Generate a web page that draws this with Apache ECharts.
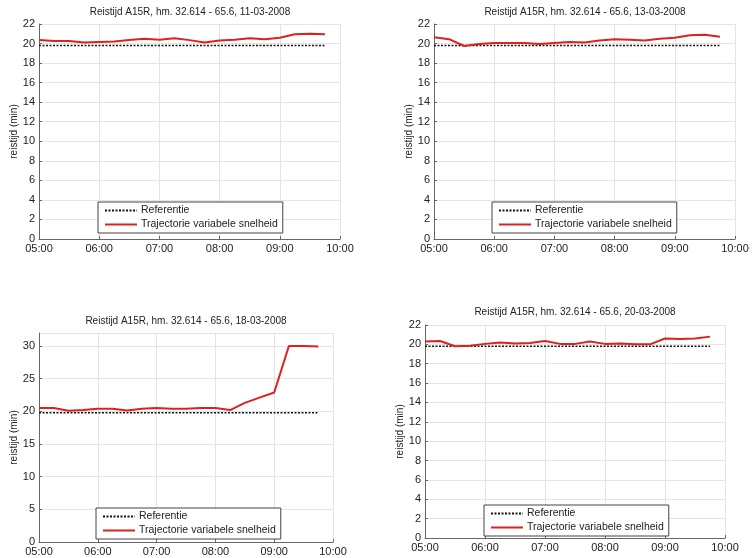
<!DOCTYPE html>
<html>
<head>
<meta charset="utf-8">
<script src="https://cdn.jsdelivr.net/npm/echarts@6/dist/echarts.min.js"></script>
<style>
html,body{margin:0;padding:0;background:#fff;}
#c{width:753px;height:558px;}
</style>
</head>
<body>
<div id="c"></div>
<script>
// ---- data ----
var times = ["05:00","05:15","05:30","05:45","06:00","06:15","06:30","06:45","07:00","07:15",
             "07:30","07:45","08:00","08:15","08:30","08:45","09:00","09:15","09:30","09:45"];
var titles = [
  "Reistijd A15R, hm. 32.614 - 65.6, 11-03-2008",
  "Reistijd A15R, hm. 32.614 - 65.6, 13-03-2008",
  "Reistijd A15R, hm. 32.614 - 65.6, 18-03-2008",
  "Reistijd A15R, hm. 32.614 - 65.6, 20-03-2008"
];
var xTickLabels = ["05:00","06:00","07:00","08:00","09:00","10:00"];
var referentie = 19.8;
var traj11 = [20.36,20.26,20.26,20.1,20.16,20.2,20.36,20.5,20.4,20.55,20.35,20.1,20.3,20.4,20.55,20.45,20.6,20.95,21.0,20.95];
var traj13 = [20.65,20.45,19.75,19.95,20.05,20.05,20.05,19.95,20.05,20.15,20.1,20.3,20.45,20.4,20.3,20.5,20.6,20.85,20.9,20.7];
var traj18 = [20.5,20.5,20.1,20.2,20.4,20.4,20.15,20.4,20.5,20.4,20.4,20.5,20.5,20.2,21.3,22.1,22.9,30.0,30.0,29.95];
var traj20 = [20.3,20.35,19.8,19.85,20.05,20.2,20.1,20.15,20.35,20.05,20.05,20.3,20.05,20.1,20.0,20.0,20.6,20.55,20.6,20.8];
var yMax = [22, 22, 32, 22];
var yInterval = [2, 2, 5, 2];
var seriesNames = ["Referentie", "Trajectorie variabele snelheid"];

// ---- layout ----
var FONT = "Liberation Sans";
var grids = [
  {left: 39, top: 24, width: 301, height: 215},
  {left: 434, top: 24, width: 301, height: 215},
  {left: 39, top: 333, width: 294, height: 209},
  {left: 425, top: 325, width: 300, height: 213}
];
var titlePos = [{x: 190, y: 7}, {x: 585, y: 7}, {x: 186, y: 316}, {x: 575, y: 307}];
var legendPos = [{x: 98, y: 202}, {x: 492, y: 202}, {x: 96, y: 508}, {x: 484, y: 505}];
var trajs = [traj11, traj13, traj18, traj20];

function toHours(t) { var p = t.split(":"); return +p[0] + (+p[1]) / 60; }
var xs = times.map(toHours);

var option = {
  animation: false,
  backgroundColor: "#fff",
  textStyle: {fontFamily: FONT},
  title: [], grid: [], xAxis: [], yAxis: [], series: [], legend: []
};

for (var i = 0; i < 4; i++) {
  option.title.push({
    text: titles[i], left: titlePos[i].x, top: titlePos[i].y, textAlign: "center", padding: 0,
    textStyle: {fontSize: 10, fontWeight: "normal", color: "#222", fontFamily: FONT}
  });
  option.grid.push(Object.assign({containLabel: false}, grids[i]));
  option.xAxis.push({
    type: "value", gridIndex: i, min: 5, max: 10, interval: 1,
    axisLine: {show: true, lineStyle: {color: "#666", width: 1}},
    axisTick: {show: true, inside: true, length: 3, lineStyle: {color: "#666"}},
    axisLabel: {fontSize: 11, color: "#222", margin: 4, fontFamily: FONT,
      formatter: function (v) { return xTickLabels[Math.round(v - 5)]; }},
    splitLine: {show: true, lineStyle: {color: "#e4e4e4", width: 1}}
  });
  option.yAxis.push({
    type: "value", gridIndex: i, min: 0, max: yMax[i], interval: yInterval[i],
    name: "reistijd (min)", nameLocation: "middle", nameGap: 19,
    nameTextStyle: {fontSize: 10, color: "#222", fontFamily: FONT},
    axisLine: {show: true, lineStyle: {color: "#666", width: 1}},
    axisTick: {show: true, inside: true, length: 3, lineStyle: {color: "#666"}},
    axisLabel: {fontSize: 11, color: "#222", margin: 4, fontFamily: FONT, showMaxLabel: yMax[i] % yInterval[i] === 0},
    splitLine: {show: true, lineStyle: {color: "#e4e4e4", width: 1}}
  });
  option.series.push({
    name: seriesNames[0], type: "line", xAxisIndex: i, yAxisIndex: i,
    symbol: "none", z: 2,
    lineStyle: {color: "#111", width: 1.5, type: [2, 1.5]}, itemStyle: {color: "#111"},
    data: xs.map(function (x) { return [x, referentie]; })
  });
  option.series.push({
    name: seriesNames[1], type: "line", xAxisIndex: i, yAxisIndex: i,
    symbol: "none", z: 3,
    lineStyle: {color: "#dd2020", width: 2}, itemStyle: {color: "#dd2020"},
    data: xs.map(function (x, k) { return [x, trajs[i][k]]; })
  });
  option.legend.push({
    left: legendPos[i].x, top: legendPos[i].y, orient: "vertical",
    data: seriesNames, backgroundColor: "#fff",
    borderColor: "#444", borderWidth: 1, borderRadius: 0,
    padding: [3, 5, 3, 6], itemGap: 3, itemWidth: 32, itemHeight: 10,
    selectedMode: false,
    itemStyle: {opacity: 0},
    textStyle: {fontSize: 10.5, color: "#222", fontFamily: FONT, padding: [0, 0, 0, -1]}
  });
}

var chart = echarts.init(document.getElementById("c"), null, {renderer: "canvas"});
chart.setOption(option);
</script>
</body>
</html>
